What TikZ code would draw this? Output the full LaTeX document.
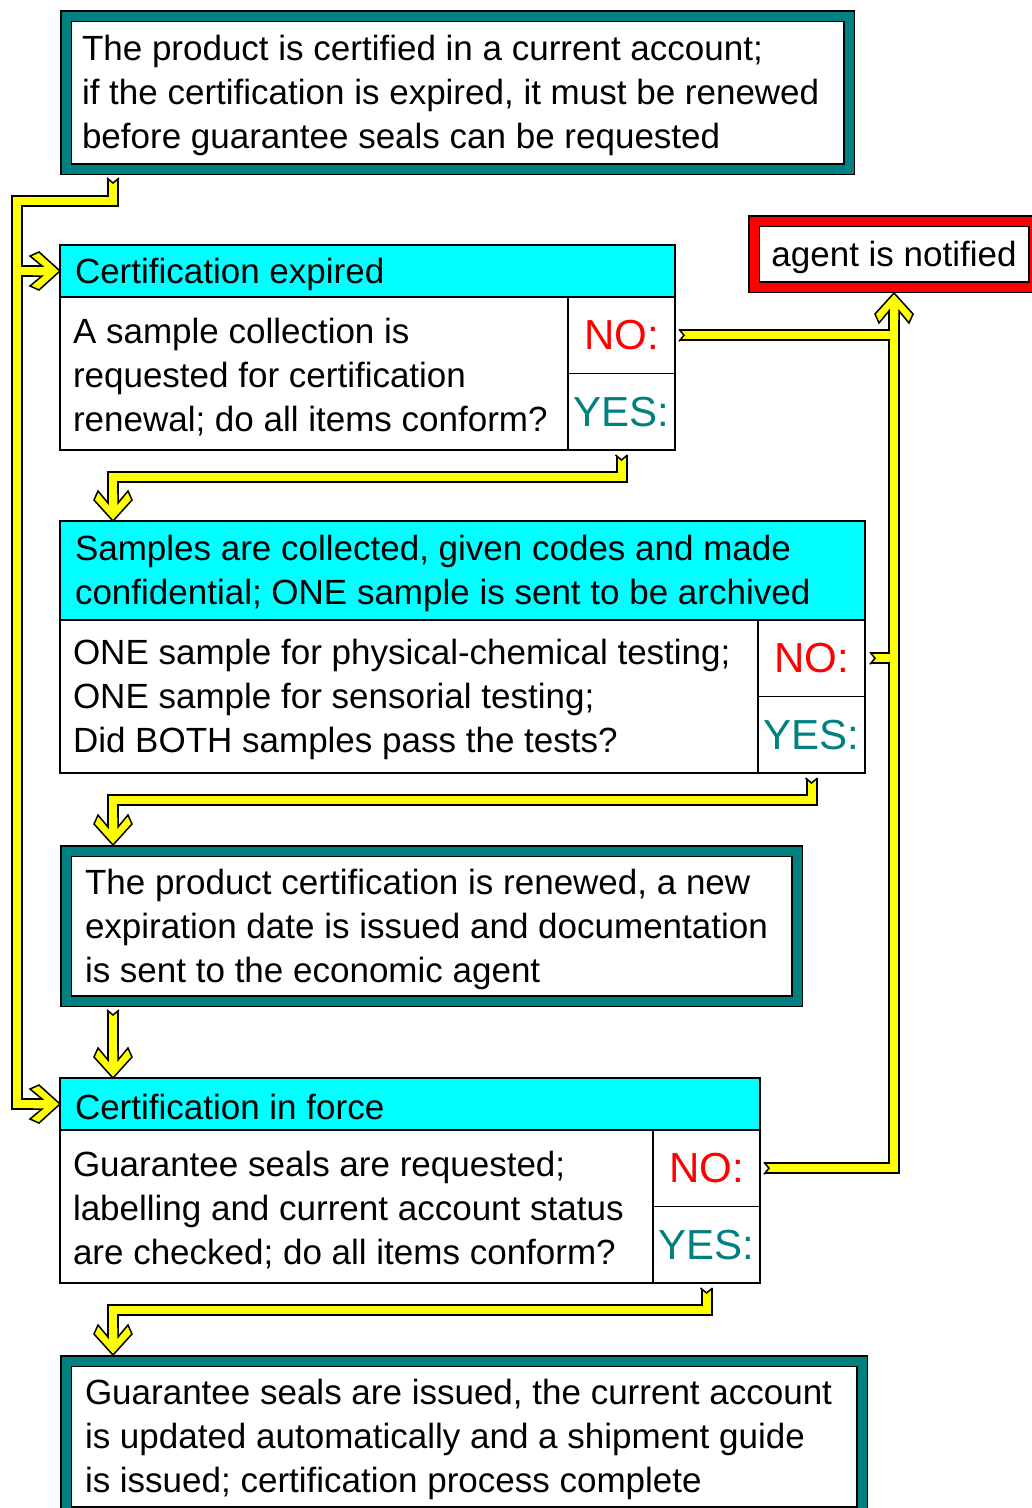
\documentclass[tikz,border=0pt]{standalone}
\usepackage{fontspec}
\setmainfont{Liberation Sans}
\usetikzlibrary{calc}
\definecolor{boxteal}{RGB}{0,128,128}
\definecolor{headcyan}{RGB}{0,255,255}
\definecolor{flowyellow}{RGB}{255,255,0}
\definecolor{alertred}{RGB}{255,0,0}

\begin{document}
\begin{tikzpicture}[x=1pt,y=-1pt,
 txt/.style={font=\fontsize{35}{44}\selectfont,execute at begin node={\rule{0pt}{32pt}}},
 outerbox/.style={txt,draw=black,line width=1.5pt,double=#1,double distance=9pt,fill=white,align=flush left,inner sep=0pt,outer sep=6pt},
 head/.style={txt,draw=black,line width=1.6pt,fill=headcyan,align=flush left,inner xsep=15pt,inner ysep=0pt,outer sep=0pt,anchor=north west},
 body/.style={txt,draw=black,line width=1.6pt,fill=white,align=flush left,inner xsep=13pt,inner ysep=0pt,outer sep=0pt,anchor=north west,minimum height=153pt},
 cell/.style={draw=black,line width=1.6pt,fill=white,inner sep=0pt,outer sep=0pt,anchor=north west,minimum width=107pt,minimum height=76.5pt,font=\fontsize{42}{44}\selectfont},
 flow/.style={draw=black,line width=2pt,double=flowyellow,double distance=8pt},
 arrowband/.style={flow,shorten >=12pt},
 chevron/.pic={
  \fill[flowyellow] (0,0) -- (-21,19) -- (-30,15) -- (-18,5) -- (-27,5) -- (-27,-5) -- (-18,-5) -- (-30,-15) -- (-21,-19) -- cycle;
  \draw[line width=1.5pt] (-27,5) -- (-18,5) -- (-30,15) -- (-21,19) -- (0,0) -- (-21,-19) -- (-30,-15) -- (-18,-5) -- (-27,-5);
 },
 notch/.pic={
  \fill[white] (0,-6.5) -- (5,0) -- (0,6.5) -- cycle;
  \draw[line width=1.5pt] (0,-6) -- (5,0) -- (0,6);
 }]

 \useasboundingbox (0,0) rectangle (1032,1508);

 \node (cert) at (457.5,92.5) [outerbox=boxteal,minimum width=783pt,minimum height=153pt,inner xsep=16pt,text width=751pt] {The product is certified in a current account;\\if the certification is expired, it must be renewed\\before guarantee seals can be requested};

 \node (agent) at (894,254) [outerbox=alertred,minimum width=280pt,minimum height=66pt] {agent is notified};

 \node (expHead) at (60,245) [head,text width=585pt,minimum height=52pt] {Certification expired};
 \node (expBody) at (expHead.south west) [body,text width=482pt] {A sample collection is\\requested for certification\\\mbox{renewal; do all items conform?}};
 \node (expNo) at (expBody.north east) [cell,text=alertred] {NO:};
 \node (expYes) at (expNo.south west) [cell,text=boxteal] {YES:};

 \node (smpHead) at (60,521) [head,text width=775pt,minimum height=99pt] {Samples are collected, given codes and made\\confidential; ONE sample is sent to be archived};
 \node (smpBody) at (smpHead.south west) [body,text width=672pt] {ONE sample for physical-chemical testing;\\ONE sample for sensorial testing;\\Did BOTH samples pass the tests?};
 \node (smpNo) at (smpBody.north east) [cell,text=alertred] {NO:};
 \node (smpYes) at (smpNo.south west) [cell,text=boxteal] {YES:};

 \node (renew) at (431.5,926) [outerbox=boxteal,minimum width=731pt,minimum height=150pt,inner xsep=19pt,text width=693pt] {The product certification is renewed, a new\\expiration date is issued and documentation\\is sent to the economic agent};

 \node (forceHead) at (60,1078) [head,text width=670pt,minimum height=52pt] {Certification in force};
 \node (forceBody) at (forceHead.south west) [body,text width=567pt] {Guarantee seals are requested;\\labelling and current account status\\are checked; do all items conform?};
 \node (forceNo) at (forceBody.north east) [cell,text=alertred] {NO:};
 \node (forceYes) at (forceNo.south west) [cell,text=boxteal] {YES:};

 \node (issue) at (464,1436.5) [outerbox=boxteal,minimum width=796pt,minimum height=151pt,inner xsep=19pt,text width=758pt] {Guarantee seals are issued, the current account\\is updated automatically and a shipment guide\\is issued; certification process complete};

 \coordinate (spine) at (113,0);
 \coordinate (loop) at (17,0);
 \coordinate (certTail) at ($(spine |- cert.south)+(0,3)$);
 \coordinate (expYesTail) at ($(expYes.south)+(0,5)$);
 \coordinate (smpYesTail) at ($(smpYes.south)+(0,5)$);
 \coordinate (renewTail) at ($(spine |- renew.south)+(0,3)$);
 \coordinate (forceYesTail) at ($(forceYes.south)+(0,5)$);
 \coordinate (expNoTail) at ($(expNo.east)+(4,0)$);
 \coordinate (smpNoTail) at ($(smpNo.east)+(5,0)$);
 \coordinate (forceNoTail) at ($(forceNo.east)+(4,0)$);

 \draw [arrowband] (certTail) -- ++(0,23) -| (loop |- forceHead.west) -- (forceHead.west);
 \draw [arrowband] ($(loop |- expHead.west)+(4,0)$) -- (expHead.west);
 \draw [arrowband] (expYesTail) -- ++(0,22) -| (spine |- smpHead.north);
 \draw [arrowband] (smpYesTail) -- ++(0,22) -| (spine |- renew.north);
 \draw [arrowband] (renewTail) -- (spine |- forceHead.north);
 \draw [arrowband] (forceYesTail) -- ++(0,22) -| (spine |- issue.north);
 \draw [arrowband] (forceNoTail) -| (agent.south);
 \draw [flow] (expNoTail) -- ($(agent.south |- expNo.east)+(-4,0)$);
 \draw [flow] (smpNoTail) -- ($(agent.south |- smpNo.east)+(-4,0)$);

 \pic at (expHead.west) {chevron};
 \pic at (forceHead.west) {chevron};
 \pic [rotate=-90] at (spine |- smpHead.north) {chevron};
 \pic [rotate=-90] at (spine |- renew.north) {chevron};
 \pic [rotate=-90] at (spine |- forceHead.north) {chevron};
 \pic [rotate=-90] at (spine |- issue.north) {chevron};
 \pic [rotate=90] at (agent.south) {chevron};

 \foreach \t in {certTail,expYesTail,smpYesTail,renewTail,forceYesTail}
  \pic [rotate=-90] at (\t) {notch};
 \foreach \t in {expNoTail,smpNoTail,forceNoTail}
  \pic at (\t) {notch};

\end{tikzpicture}
\end{document}
